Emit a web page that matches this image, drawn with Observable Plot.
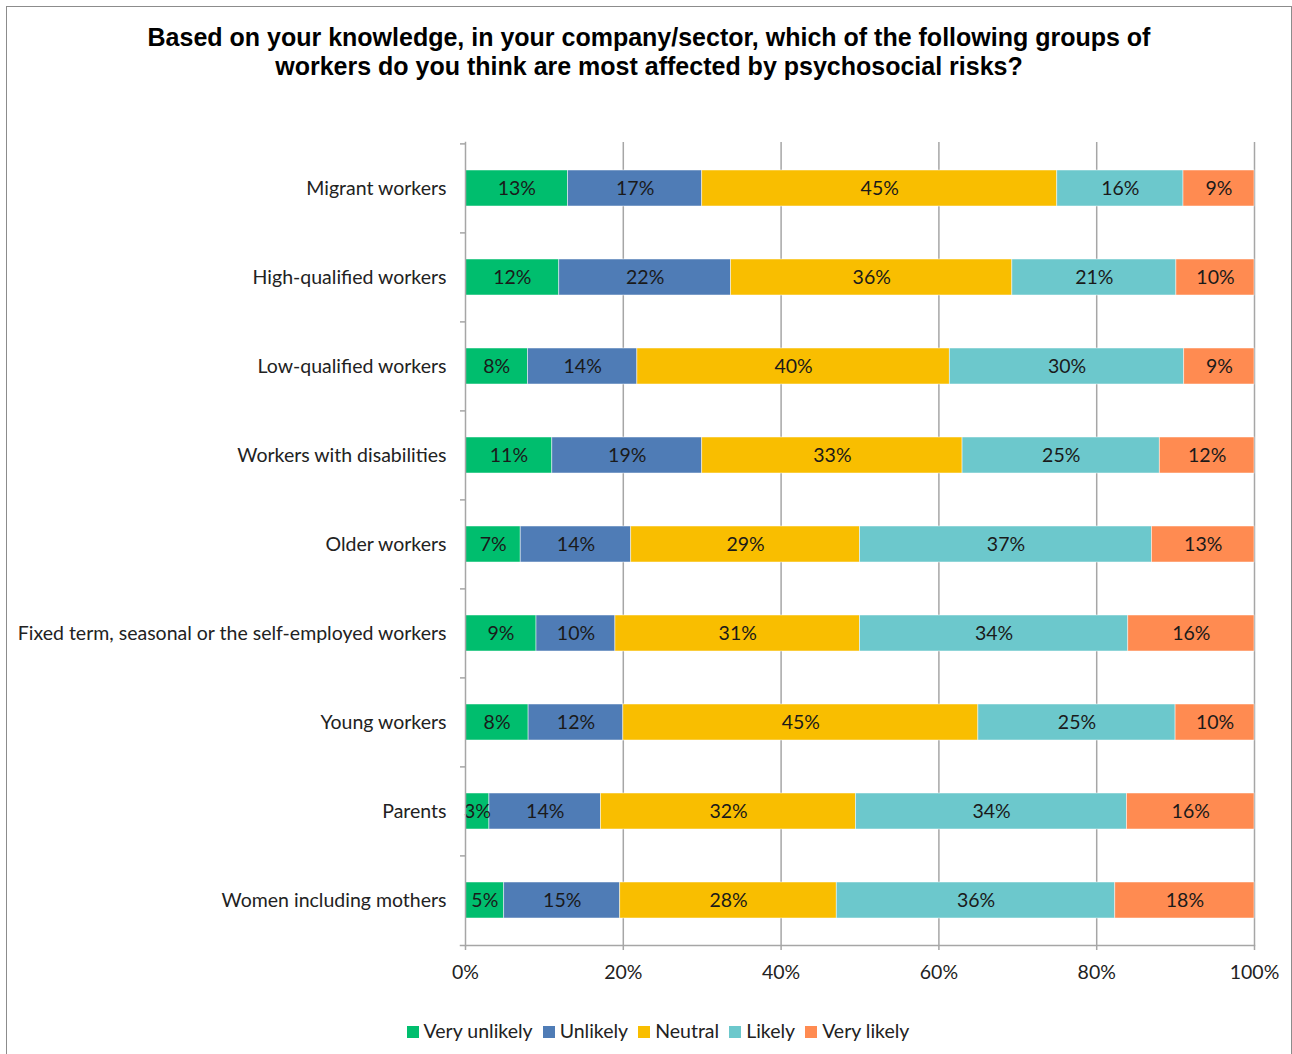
<!DOCTYPE html>
<html>
<head>
<meta charset="utf-8">
<script src="https://cdn.jsdelivr.net/npm/d3@7"></script>
<script src="https://cdn.jsdelivr.net/npm/@observablehq/plot@0.6"></script>
<style>
  html, body { margin: 0; padding: 0; background: #fff; }
  #page { position: relative; width: 1292px; height: 1054px; overflow: hidden; }
  #border { position: absolute; left: 6px; top: 6px; width: 1286px; height: 1060px; border: 1.5px solid #8c8c8c; box-sizing: border-box; }
  #title { position: absolute; left: 0; top: 23px; width: 1298px; text-align: center; font-family: "Liberation Sans", Arial, sans-serif; font-weight: bold; font-size: 25px; line-height: 29px; color: #000; }
  #chart { position: absolute; left: 0; top: 100px; }
  #legend { position: absolute; left: 0; top: 1019px; width: 1316px; text-align: center; font-family: Lato, sans-serif; font-size: 19.5px; color: #222; }
  #legend span.item { margin: 0 5px; white-space: nowrap; }
  #legend span.sw { display: inline-block; width: 12px; height: 12px; margin-right: 5px; vertical-align: 0px; }
</style>
</head>
<body>
<div id="page">
  <div id="border"></div>
  <div id="title">Based on your knowledge, in your company/sector, which of the following groups of<br>workers do you think are most affected by psychosocial risks?</div>
  <div id="chart"></div>
  <div id="legend"></div>
</div>
<script>
const groups = [
  "Migrant workers",
  "High-qualified workers",
  "Low-qualified workers",
  "Workers with disabilities",
  "Older workers",
  "Fixed term, seasonal or the self-employed workers",
  "Young workers",
  "Parents",
  "Women including mothers"
];
const categories = ["Very unlikely", "Unlikely", "Neutral", "Likely", "Very likely"];
const colors = ["#00be6e", "#4f7cb6", "#f9be00", "#6cc8cc", "#ff8b51"];

const veryUnlikely = [13, 12, 8, 11, 7, 9, 8, 3, 5];
const unlikely     = [17, 22, 14, 19, 14, 10, 12, 14, 15];
const neutral      = [45, 36, 40, 33, 29, 31, 45, 32, 28];
const likely       = [16, 21, 30, 25, 37, 34, 25, 34, 36];
const veryLikely   = [9, 10, 9, 12, 13, 16, 10, 16, 18];

const series = [veryUnlikely, unlikely, neutral, likely, veryLikely];
const data = [];
groups.forEach((g, i) => {
  categories.forEach((c, j) => {
    data.push({group: g, category: c, value: series[j][i]});
  });
});

const width = 1292;
const marginLeft = 465, marginRight = 38, marginTop = 42, marginBottom = 50;
const height = 895;
const plotH = height - marginTop - marginBottom;
const step = plotH / groups.length;
const font = "Lato, sans-serif";
const fs = 19.5;

const stackOpts = {x: "value", y: "group", fill: "category", z: "category", offset: "normalize"};

const chart = Plot.plot({
  width, height, marginLeft, marginRight, marginTop, marginBottom,
  style: {fontFamily: font, fontSize: fs + "px", color: "#222", background: "transparent"},
  x: {domain: [0, 1], label: null},
  y: {domain: groups, paddingInner: 0.6, paddingOuter: 0.3, label: null},
  color: {domain: categories, range: colors},
  marks: [
    Plot.gridX({ticks: [0.2, 0.4, 0.6, 0.8, 1], stroke: "#a6a6a6", strokeOpacity: 1, strokeWidth: 1.5}),
    Plot.barX(data, Plot.stackX({...stackOpts, stroke: "#fff", strokeWidth: 0.8, strokeOpacity: 0.6})),
    Plot.text(data, Plot.stackX({...stackOpts, text: d => d.value + "%", fill: "#1a1a1a", fontSize: fs})),
    Plot.frame({anchor: "left", stroke: "#a6a6a6", strokeWidth: 1.5}),
    Plot.frame({anchor: "bottom", stroke: "#a6a6a6", strokeWidth: 1.5, insetLeft: -5}),
    Plot.axisY({tickSize: 5, text: null, dy: -step / 2, stroke: "#a6a6a6", strokeWidth: 1.5}),
    Plot.axisY({tickSize: 0, tickPadding: 19, fontSize: fs, fill: "#222"}),
    Plot.axisX({ticks: [0, 0.2, 0.4, 0.6, 0.8, 1], tickFormat: d => Math.round(d * 100) + "%", tickSize: 5, tickPadding: 15, stroke: "#a6a6a6", strokeWidth: 1.5, fontSize: fs, fill: "#222"})
  ]
});
document.getElementById("chart").appendChild(chart);

const legend = document.getElementById("legend");
categories.forEach((c, i) => {
  const item = document.createElement("span");
  item.className = "item";
  const sw = document.createElement("span");
  sw.className = "sw";
  sw.style.background = colors[i];
  item.appendChild(sw);
  item.appendChild(document.createTextNode(c));
  legend.appendChild(item);
});
</script>
</body>
</html>
